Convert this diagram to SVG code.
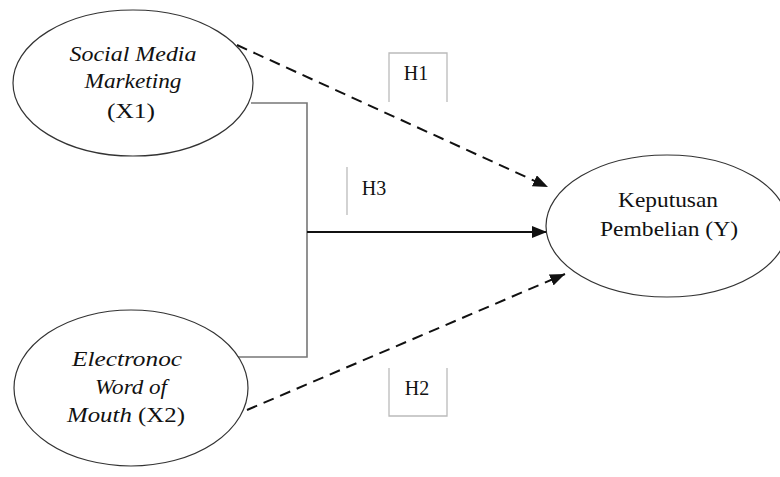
<svg xmlns="http://www.w3.org/2000/svg" width="780" height="477" viewBox="0 0 780 477">
<style>
.node{fill:#fff;stroke:#333;stroke-width:1.2}
.t{font-family:"Liberation Serif","Times New Roman",serif;font-size:22px;fill:#111;text-anchor:middle}
.i{font-style:italic}
.h{font-family:"Liberation Serif","Times New Roman",serif;font-size:20px;fill:#111;text-anchor:middle}
.box{fill:none;stroke:#bbb;stroke-width:1.3}
.dash{fill:none;stroke:#111;stroke-width:2;stroke-dasharray:11,7}
.solid{fill:none;stroke:#111;stroke-width:2}
.join{fill:none;stroke:#777;stroke-width:1.6}
</style>
<defs>
<marker id="arr" markerUnits="userSpaceOnUse" markerWidth="16" markerHeight="12" refX="15" refY="6" orient="auto">
<path d="M0,0 L15,6 L0,12 z" fill="#111"/>
</marker>
</defs>
<g id="connectors">
<polyline class="join" points="251,103 307,103 307,357 237,357"/>
<line class="solid" x1="307" y1="232" x2="547" y2="232" marker-end="url(#arr)"/>
<line class="dash" x1="237" y1="45" x2="548" y2="187" marker-end="url(#arr)"/>
<line class="dash" x1="247" y1="410" x2="565" y2="274" marker-end="url(#arr)"/>
</g>
<g id="labels">
<path class="box" d="M389,102 V53 H447 V102"/>
<text class="h" x="416" y="80">H1</text>
<path class="box" d="M347,167 V215"/>
<text class="h" x="374" y="195">H3</text>
<path class="box" d="M389,368 V416 H447 V368"/>
<text class="h" x="417" y="395">H2</text>
</g>
<g id="x1">
<ellipse class="node" cx="133" cy="83" rx="120" ry="73"/>
<text class="t i" x="133" y="61" textLength="127" lengthAdjust="spacingAndGlyphs">Social Media</text>
<text class="t i" x="133" y="88" textLength="97" lengthAdjust="spacingAndGlyphs">Marketing</text>
<text class="t" x="131" y="118" textLength="48" lengthAdjust="spacingAndGlyphs">(X1)</text>
</g>
<g id="x2">
<ellipse class="node" cx="131" cy="388" rx="117" ry="78"/>
<text class="t i" x="127" y="366" textLength="110" lengthAdjust="spacingAndGlyphs">Electronoc</text>
<text class="t i" x="131" y="394" textLength="72" lengthAdjust="spacingAndGlyphs">Word of</text>
<text class="t" x="126" y="422" textLength="118" lengthAdjust="spacingAndGlyphs"><tspan class="i">Mouth</tspan> (X2)</text>
</g>
<g id="y">
<ellipse class="node" cx="667" cy="226" rx="121" ry="71"/>
<text class="t" x="668" y="207" textLength="100" lengthAdjust="spacingAndGlyphs">Keputusan</text>
<text class="t" x="669" y="236" textLength="138" lengthAdjust="spacingAndGlyphs">Pembelian (Y)</text>
</g>
</svg>
